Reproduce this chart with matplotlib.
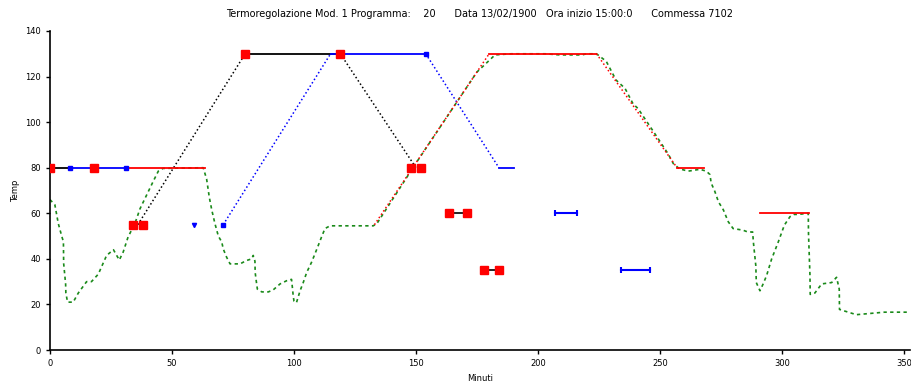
import matplotlib.pyplot as plt
import numpy as np

nan = np.nan

# measured temperature (green)
meas_t = [0, 2, 3.4, 4.8, 5.5, 5.6, 6.4, 6.5, 7.2, 9.5, 11.6, 15, 17, 19.8, 23.2, 26, 28.4, 30,
          32, 34.8, 36.9, 39.6, 42.3, 44.4, 46.3, 62.8, 64.2, 65.3, 66.3, 67.6, 69, 70.4, 71,
          72.4, 73.8, 77.9, 80.6, 82.7, 83.3, 84, 84.1, 84.7, 85, 86.8, 89.5, 91.5, 94.3, 97,
          99, 99.2, 99.7, 100, 101, 102.5, 103.8, 105.2, 107.2, 108.6, 110, 111.3, 112.7,
          114.8, 132.5, 134, 150, 165, 175, 182.4, 189, 203, 209, 218, 220, 224, 228, 232,
          235.7, 239, 241, 248, 250.7, 253.4, 255.5, 258, 261.6, 266.4, 269, 270.5, 271,
          272.5, 274, 276, 278, 280, 284, 286, 288, 288.3, 289.3, 289.5, 291, 292.3, 293.7,
          295.8, 298.5, 301, 303.3, 305, 306.7, 310.8, 310.9, 311.5, 311.6, 313.5, 316.3,
          320.4, 322.4, 323.5, 323.6, 330.5, 342, 352.5]
meas_T = [66, 63.7, 55.5, 50, 47.5, 38, 29, 25, 21, 21, 25, 30, 30, 33.3, 41.5, 44, 39.5, 43,
          49.6, 55.5, 62, 68, 74, 78.5, 79.7, 80, 75, 67, 61.5, 55.5, 50, 47.4, 44.4,
          40.7, 37.8, 37.8, 39.3, 40, 41.5, 39, 34, 29, 26.7, 25.5, 25.5, 26.4, 29, 30.4,
          31, 29, 23.7, 21.5, 20.7, 26, 29.6, 34, 38.5, 42.2, 46, 49.6, 53.3,
          54.5, 54.5, 55.5, 82, 106, 122, 129.5, 130, 130, 129.5, 129.5, 130, 130, 126.7, 118.5,
          114.8, 108, 106, 94.8, 90.4, 86, 81.8, 79.5, 78.5, 79.3, 78.5, 77, 73.3,
          69.6, 65, 61.5, 56.3, 53.3, 52.6, 51.8, 51.8, 47.4, 37, 29.6, 26, 29, 32.6,
          40, 47.4, 54.8, 58.5, 59.5, 59.5, 60, 51, 32.6, 24.4, 25, 29,
          29.6, 31.9, 26.7, 17.8, 15.5, 16.6, 16.6]

# program profiles
black_t = [0, 8, nan, 36, 80, 119, 150]
black_T = [80, 80, nan, 55, 130, 130, 80]
blue_t = [8, 31, nan, 71, 115, 154, 184, 190]
blue_T = [80, 80, nan, 55, 130, 130, 80, 80]
red_t = [31, 63.5, nan, 133, 180, 224, 257, 268, nan, 291, 311]
red_T = [80, 80, nan, 55, 130, 130, 80, 80, nan, 60, 60]

# markers
sq_t = [0, 18, 34, 38, 80, 119, 148, 152]
sq_T = [80, 80, 55, 55, 130, 130, 80, 80]
blue_dot_t = [8, 31, 71, 154]
blue_dot_T = [80, 80, 55, 130]
blue_tri_t = [59]
blue_tri_T = [55]

# hold segments
hold_red_t = [(163.5, 171), (178, 184)]
hold_red_T = [60, 35]
hold_blue_t = [(207, 216), (234, 246)]
hold_blue_T = [60, 35]

title = ("Termoregolazione Mod. 1 Programma:    20      Data 13/02/1900   "
         "Ora inizio 15:00:0      Commessa 7102")


def profile(ax, t, T, color):
    # flat steps drawn solid, ramps drawn dotted
    for i in range(len(t) - 1):
        if np.isnan(t[i]) or np.isnan(t[i + 1]):
            continue
        flat = T[i] == T[i + 1]
        ax.plot(t[i:i + 2], T[i:i + 2], color=color,
                lw=1.3 if flat else 1.1, ls="-" if flat else (0, (1, 1.6)))


fig = plt.figure(figsize=(9.11, 3.90), dpi=100)
ax = fig.add_axes([50 / 911, 40 / 390, 860 / 911, 319 / 390])

ax.plot(meas_t, meas_T, color="#1a8a1a", lw=1.2, ls=(0, (2, 2)))
profile(ax, black_t, black_T, "black")
profile(ax, blue_t, blue_T, "blue")
profile(ax, red_t, red_T, "red")

for (a, b), T in zip(hold_red_t, hold_red_T):
    ax.plot([a, b], [T, T], color="black", lw=1.2)
    ax.plot([a, b], [T, T], "s", color="red", ms=6)
for (a, b), T in zip(hold_blue_t, hold_blue_T):
    ax.plot([a, b], [T, T], color="blue", lw=1.5, marker="|", ms=4, mew=1.5)

ax.plot(sq_t, sq_T, "s", color="red", ms=6, zorder=5)
ax.plot(blue_dot_t, blue_dot_T, "s", color="blue", ms=2.5, zorder=6)
ax.plot(blue_tri_t, blue_tri_T, "v", color="blue", ms=3, zorder=6)

ax.set_xlim(0, 352.5)
ax.set_ylim(0, 140)
ax.set_xticks(np.arange(0, 351, 50))
ax.set_yticks(np.arange(0, 141, 20))
ax.tick_params(labelsize=6, length=3, width=1)
for s in ["top", "right"]:
    ax.spines[s].set_visible(False)
for s in ["left", "bottom"]:
    ax.spines[s].set_linewidth(1.2)
ax.set_xlabel("Minuti", fontsize=6, labelpad=4)
ax.set_ylabel("Temp", fontsize=6, labelpad=4)
ax.set_title(title, fontsize=7, pad=10)

fig.savefig("out.png", dpi=100)
